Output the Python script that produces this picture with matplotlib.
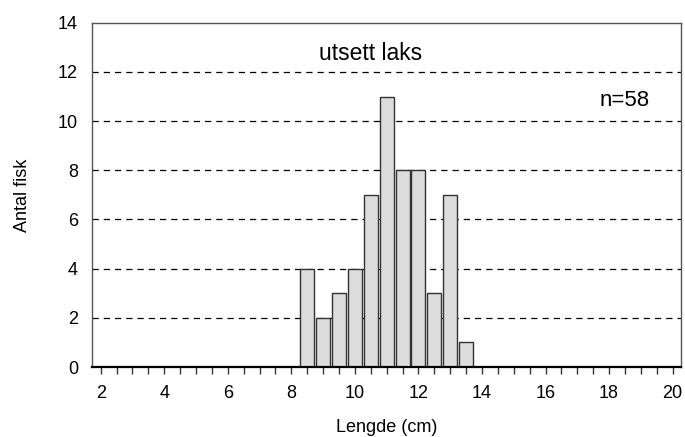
import matplotlib
matplotlib.use("Agg")
import matplotlib.pyplot as plt
import numpy as np

plt.rcParams['font.family'] = ['Liberation Sans', 'DejaVu Sans']

# length classes (cm) and number of fish in each
lengths = [8.5, 9.0, 9.5, 10.0, 10.5, 11.0, 11.5, 12.0, 12.5, 13.0, 13.5]
counts = [4, 2, 3, 4, 7, 11, 8, 8, 3, 7, 1]
n_total = sum(counts)

fig = plt.figure(figsize=(6.85, 4.37), dpi=100)
ax = fig.add_axes([0.134, 0.160, 0.860, 0.788])

# horizontal dashed grid
for y in range(2, 14, 2):
    ax.axhline(y, color='black', lw=0.9, dashes=(5, 4), zorder=1)

ax.bar(lengths, counts, width=0.44, color='#dcdcdc', edgecolor='#333333',
       linewidth=1.0, zorder=2)

ax.set_xlim(1.72, 20.26)
ax.set_ylim(0, 14)
xt = np.arange(2, 20.01, 0.5)
ax.set_xticks(xt)
ax.set_xticklabels([str(int(v)) if v % 2 == 0 else '' for v in xt])
ax.set_yticks(range(0, 15, 2))
ax.tick_params(axis='x', direction='out', length=5, width=1, color='#333333',
               labelsize=13, pad=8)
ax.tick_params(axis='y', length=0, labelsize=13, pad=10)

for side in ['left', 'right', 'top']:
    ax.spines[side].set_color('#555555')
    ax.spines[side].set_linewidth(1.0)
ax.spines['bottom'].set_color('black')
ax.spines['bottom'].set_linewidth(1.6)

ax.set_ylabel('Antal fisk', fontsize=13)
ax.set_xlabel('Lengde (cm)', fontsize=13)
ax.yaxis.set_label_coords(-0.104, 0.5)
ax.xaxis.set_label_coords(0.5, -0.152)

ax.text(10.5, 12.73, 'utsett laks', ha='center', va='center', fontsize=16.5)
ax.text(18.5, 10.84, 'n=%d' % n_total, ha='center', va='center', fontsize=16)

plt.savefig('out.png', dpi=100)
